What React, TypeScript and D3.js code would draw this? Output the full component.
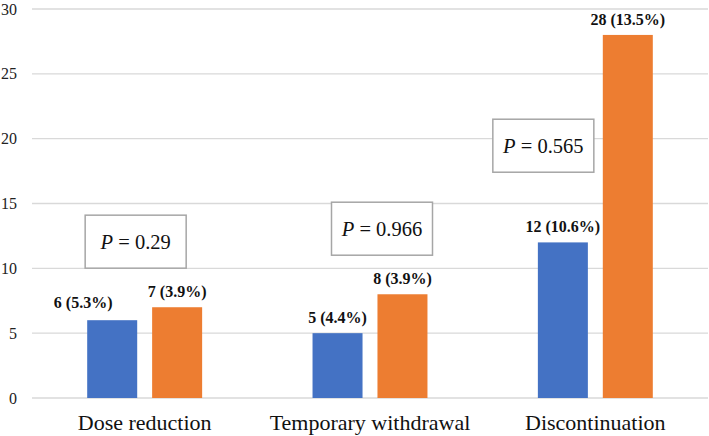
import React from 'react';
import * as d3 from 'd3';

const categories = ['Dose reduction', 'Temporary withdrawal', 'Discontinuation'];
const seriesNames = ['Group A', 'Group B'];
const countsA = [6, 5, 12];
const countsB = [7, 8, 28];
const pctA = ['5.3%', '4.4%', '10.6%'];
const pctB = ['3.9%', '3.9%', '13.5%'];
const pValues = ['0.29', '0.966', '0.565'];
const yTicks = [0, 5, 10, 15, 20, 25, 30];

// p-value box top edge in data units, and horizontal shift from the category centre
const pBoxTop = [14.1, 15.1, 21.5];
const pBoxShift = [-9, 12, -52];
// the first label sits a bit off its bar in the original
const labelNudge = [[-29, -2], [0, 0], [0, 0]];

const colors = ['#4472C4', '#ED7D31'];
const W = 709;
const H = 436;
const margin = { top: 9, right: 1, bottom: 38, left: 32 };

const serif = 'Liberation Serif, Times New Roman, Times, serif';

const App: React.FC = () => {
    const x0 = d3.scaleBand()
        .domain(categories)
        .range([margin.left, W - margin.right])
        .padding(0);

    const x1 = d3.scaleBand()
        .domain(seriesNames)
        .range([0, x0.bandwidth()])
        .paddingInner(0.23)
        .paddingOuter(0.85);

    const y = d3.scaleLinear()
        .domain([0, 30])
        .range([H - margin.bottom, margin.top]);

    const bars = categories.flatMap((c, i) => [
        { cat: c, s: seriesNames[0], v: countsA[i], label: `${countsA[i]} (${pctA[i]})`, color: colors[0], i, k: 0 },
        { cat: c, s: seriesNames[1], v: countsB[i], label: `${countsB[i]} (${pctB[i]})`, color: colors[1], i, k: 1 },
    ]);

    const boxW = 101;
    const boxH = 53;

    return (
        <div style={{ position: 'absolute', left: 0, top: 0 }}>
            <svg width={W} height={H} style={{ display: 'block', background: '#fff', fontFamily: serif }}>
                {/* grid */}
                {yTicks.map(t => (
                    <line key={t} x1={margin.left} x2={W - margin.right} y1={y(t)} y2={y(t)}
                        stroke="#d9d9d9" strokeWidth={1.3} />
                ))}
                {yTicks.map(t => (
                    <text key={'t' + t} x={17} y={y(t)} dy="0.35em" textAnchor="end" fontSize={16} fill="#222"
                        style={{ fontFamily: serif }}>{t}</text>
                ))}

                {/* bars */}
                {bars.map(d => (
                    <rect key={d.cat + d.s}
                        x={x0(d.cat)! + x1(d.s)!}
                        y={y(d.v)}
                        width={x1.bandwidth()}
                        height={y(0) - y(d.v)}
                        fill={d.color} />
                ))}
                {bars.map(d => (
                    <text key={'l' + d.cat + d.s}
                        x={x0(d.cat)! + x1(d.s)! + x1.bandwidth() / 2 + (d.k === 0 ? labelNudge[d.i][0] : 0)}
                        y={y(d.v) - 10 + (d.k === 0 ? labelNudge[d.i][1] : 0)}
                        textAnchor="middle" fontSize={16} fontWeight="bold" fill="#111"
                        style={{ fontFamily: serif }}>{d.label}</text>
                ))}

                {/* p value boxes */}
                {categories.map((c, i) => {
                    const cx = x0(c)! + x0.bandwidth() / 2 + pBoxShift[i];
                    const top = y(pBoxTop[i]);
                    return (
                        <g key={'p' + c}>
                            <rect x={cx - boxW / 2} y={top} width={boxW} height={boxH}
                                fill="#fff" stroke="#a6a6a6" strokeWidth={1.5} />
                            <text x={cx} y={top + boxH / 2} dy="0.35em" textAnchor="middle" fontSize={20.5} fill="#111"
                                style={{ fontFamily: serif }}>
                                <tspan fontStyle="italic">P</tspan> = {pValues[i]}
                            </text>
                        </g>
                    );
                })}

                {/* category labels */}
                {categories.map(c => (
                    <text key={'c' + c} x={x0(c)! + x0.bandwidth() / 2} y={430} textAnchor="middle" fontSize={22} fill="#111"
                        style={{ fontFamily: serif }}>{c}</text>
                ))}
            </svg>
        </div>
    );
};

export default App;
